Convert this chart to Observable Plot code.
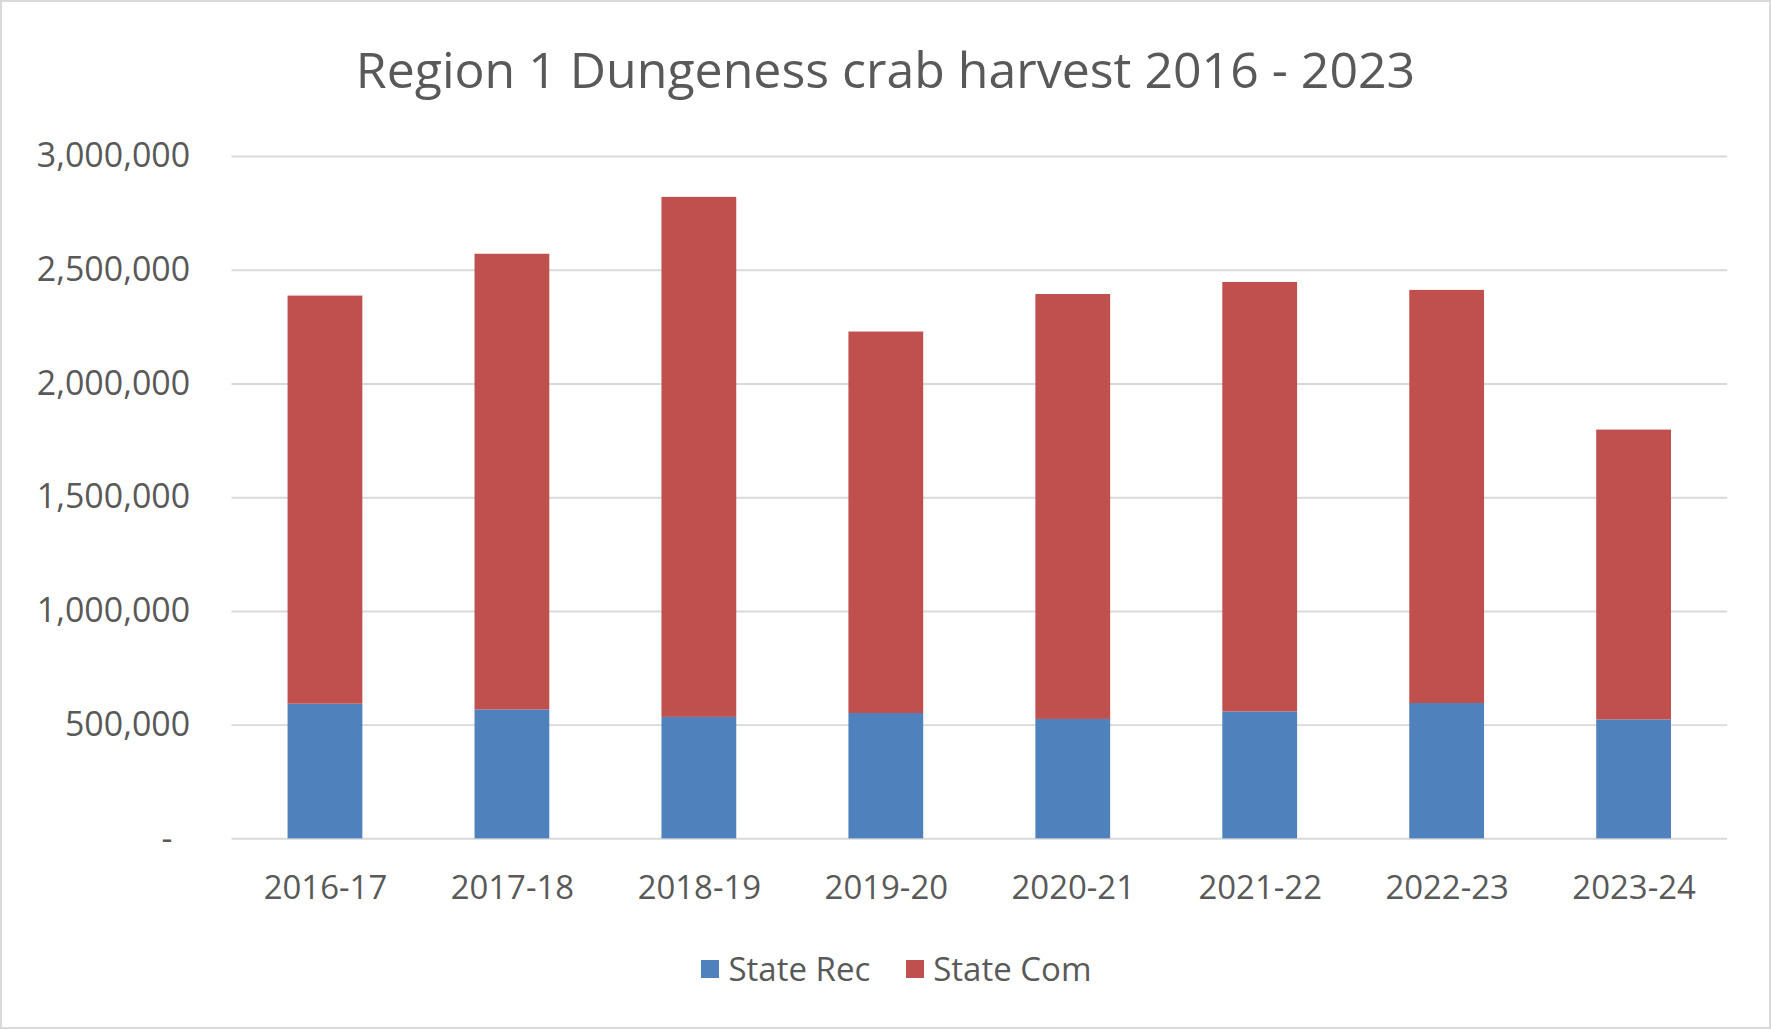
<!DOCTYPE html>
<html>
<head>
<meta charset="utf-8">
<script src="https://cdn.jsdelivr.net/npm/d3@7"></script>
<script src="https://cdn.jsdelivr.net/npm/@observablehq/plot@0.6"></script>
<style>
  html, body { margin: 0; padding: 0; background: #fff; }
  #frame {
    position: relative; width: 1771px; height: 1029px; box-sizing: border-box;
    border: 2px solid #d9d9d9; background: #fff; overflow: hidden;
    font-family: "Open Sans", sans-serif; color: #595959;
  }
  #title {
    position: absolute; left: 0; top: 32px; width: 100%; text-align: center;
    font-size: 50px; line-height: 70px; color: #595959;
  }
  #chart { position: absolute; left: 0; top: 118px; }
  #legend {
    position: absolute; left: 11px; top: 945px; width: 100%;
    display: flex; justify-content: center; align-items: center; gap: 0;
    font-size: 33px; line-height: 44px; color: #595959;
  }
  .item { display: flex; align-items: center; margin: 0 18px; }
  .sw { width: 18px; height: 18px; margin-right: 9px; }
</style>
</head>
<body>
<div id="frame">
  <div id="title">Region 1 Dungeness crab harvest 2016 - 2023</div>
  <div id="chart"></div>
  <div id="legend"></div>
</div>
<script>
const seasons = ["2016-17", "2017-18", "2018-19", "2019-20", "2020-21", "2021-22", "2022-23", "2023-24"];
const stateRec = [592000, 567000, 534000, 551000, 525000, 558000, 595000, 523000];
const stateCom = [1794000, 2003000, 2286000, 1677000, 1868000, 1888000, 1816000, 1274000];
const seriesNames = ["State Rec", "State Com"];
const seriesColors = ["#4f81bd", "#c0504d"];
const yTicks = [0, 500000, 1000000, 1500000, 2000000, 2500000, 3000000];

const rows = [];
seasons.forEach((s, i) => {
  rows.push({season: s, series: seriesNames[0], value: stateRec[i]});
  rows.push({season: s, series: seriesNames[1], value: stateCom[i]});
});

const fmt = d3.format(",");
const plot = Plot.plot({
  width: 1771,
  height: 812,
  marginLeft: 230,
  marginRight: 42,
  marginTop: 36,
  marginBottom: 92,
  style: {fontFamily: "Open Sans, sans-serif", fontSize: "33px", color: "#595959", background: "transparent"},
  x: {domain: seasons, paddingInner: 0.6, paddingOuter: 0.3, round: false, label: null},
  y: {domain: [0, 3000000], label: null},
  color: {domain: seriesNames, range: seriesColors},
  marks: [
    Plot.gridY(yTicks, {stroke: "#d9d9d9", strokeOpacity: 1, strokeWidth: 2}),
    Plot.barY(rows, {x: "season", y: "value", fill: "series", order: seriesNames}),
    Plot.axisY(yTicks, {tickSize: 0, tickPadding: 42, label: null, fontSize: 34,
      tickFormat: d => d === 0 ? "-\u00a0\u00a0" : fmt(d)}),
    Plot.axisX({tickSize: 0, tickPadding: 37, label: null})
  ]
});
document.getElementById("chart").appendChild(plot);

const legend = document.getElementById("legend");
seriesNames.forEach((n, i) => {
  const item = document.createElement("div");
  item.className = "item";
  const sw = document.createElement("div");
  sw.className = "sw";
  sw.style.background = seriesColors[i];
  const t = document.createElement("span");
  t.textContent = n;
  item.appendChild(sw); item.appendChild(t);
  legend.appendChild(item);
});
</script>
</body>
</html>
